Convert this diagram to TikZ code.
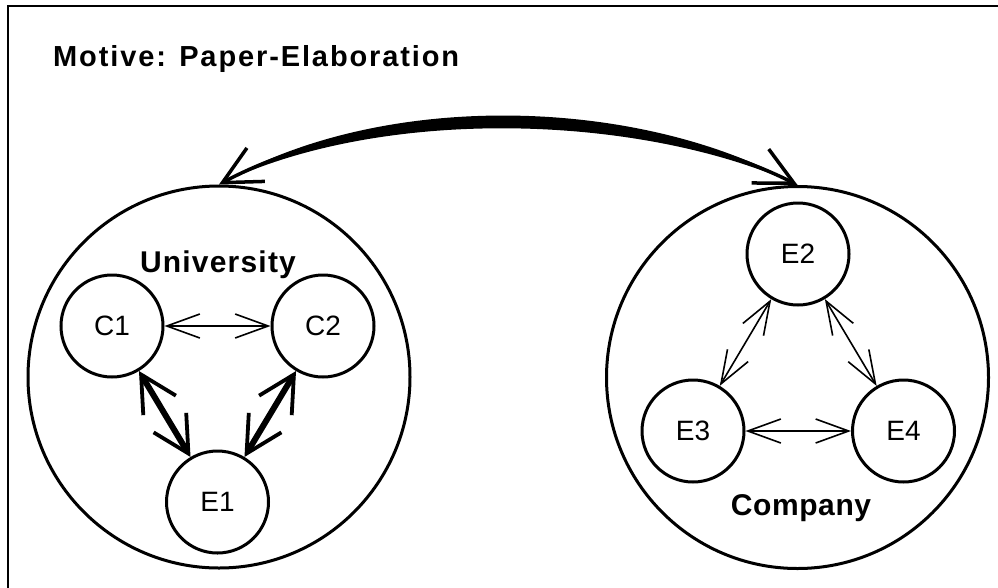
\documentclass[tikz,border=0pt]{standalone}
\usepackage{fontspec}
\setmainfont{Liberation Sans}
\usetikzlibrary{arrows.meta}
\begin{document}
\begin{tikzpicture}[x=1pt,y=-1pt,
  member/.style={circle,draw,line width=3pt,minimum size=102pt,inner sep=0pt,
    font=\fontsize{28}{30}\selectfont},
  group/.style={circle,draw,line width=3pt,minimum size=382pt,inner sep=0pt},
  grouplabel/.style={anchor=base,font=\fontsize{30}{32}\selectfont\bfseries},
  weakbarb/.tip={Straight Barb[length=33pt,width=24pt,line width=1.6pt]},
  strongbarb/.tip={Straight Barb[length=36pt,width=38pt,line width=3.8pt]},
  bigbarb/.tip={Straight Barb[length=38pt,width=38pt,line width=3.5pt]},
  weak/.style={line width=1.6pt,weakbarb-weakbarb},
  strong/.style={line width=6pt,strongbarb-strongbarb},
]
\useasboundingbox (0,0) rectangle (998,587);

% outer frame
\draw[line width=2pt] (8,620) -- (8,6) -- (1020,6);

% title
\node[anchor=base west,inner sep=0pt,
  font=\fontsize{29}{31}\selectfont\bfseries\addfontfeature{LetterSpace=6.5}]
  (title) at (53,66) {Motive: Paper-Elaboration};

% groups
\node[group] (U)  at (219,377) {};
\node[group] (Co) at (797.5,377.5) {};
\node[grouplabel,font=\fontsize{30}{32}\selectfont\bfseries\addfontfeature{LetterSpace=4}]
  (ulabel) at (218,272) {University};
\node[grouplabel,font=\fontsize{30}{32}\selectfont\bfseries\addfontfeature{LetterSpace=2}]
  (clabel) at (801,515) {Company};

% members
\node[member] (C1) at (112,326) {C1};
\node[member] (C2) at (323,326) {C2};
\node[member] (E1) at (217.5,502) {E1};
\node[member] (E2) at (798,254) {E2};
\node[member] (E3) at (693,431) {E3};
\node[member] (E4) at (903.5,431) {E4};

% relations inside the university
\draw[weak] (C1) -- (C2);
\draw[strong] (C1) -- (E1);
\draw[strong] (C2) -- (E1);

% relations inside the company
\draw[weak] (E2) -- (E3);
\draw[weak] (E2) -- (E4);
\draw[weak] (E3) -- (E4);

% relation between the groups (tapered curve)
\fill (U.north) .. controls (380,89) and (640,96) .. (Co.north)
  .. controls (640,113) and (380,106) .. (U.north) -- cycle;
\draw[line width=3.5pt,bigbarb-bigbarb]
  (U.north) .. controls (380,98) and (640,105) .. (Co.north);
\end{tikzpicture}
\end{document}
